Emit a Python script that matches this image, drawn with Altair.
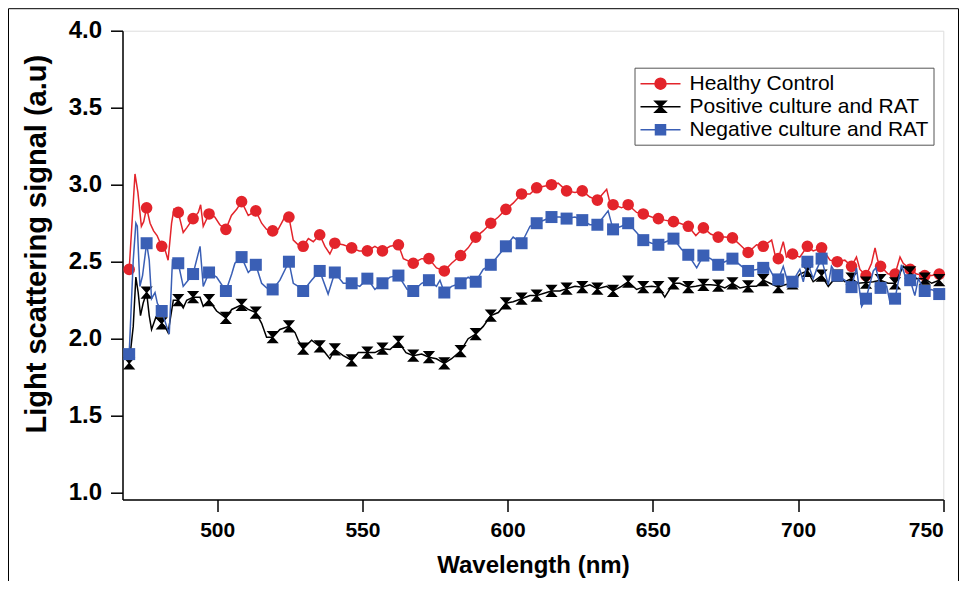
import altair as alt
import pandas as pd

# ---------------- data ----------------
series_names = ["Healthy Control", "Positive culture and RAT", "Negative culture and RAT"]
series_colors = ["#e3242b", "#000000", "#3a5fb5"]

x_ticks = [500, 550, 600, 650, 700, 750]
y_ticks = [1.0, 1.5, 2.0, 2.5, 3.0, 3.5, 4.0]

marker_wl = [469.7, 475.7, 480.9, 486.6, 491.7, 497.2, 503.0, 508.4, 513.3, 519.1,
             524.7, 529.6, 535.3, 540.5, 546.3, 551.7, 556.9, 562.4, 567.5, 572.9,
             578.2, 583.8, 589.0, 594.2, 599.4, 604.8, 610.0, 615.1, 620.3, 625.7,
             630.9, 636.3, 641.5, 646.7, 651.9, 657.1, 662.2, 667.4, 672.5, 677.4,
             682.8, 688.0, 693.2, 698.1, 703.2, 708.1, 713.5, 718.4, 723.4, 728.4,
             733.4, 738.6, 743.6, 748.6]

red_marker = [2.45, 2.85, 2.60, 2.82, 2.78, 2.81, 2.71, 2.89, 2.83, 2.70,
              2.79, 2.60, 2.675, 2.62, 2.59, 2.57, 2.57, 2.61, 2.49, 2.52,
              2.44, 2.54, 2.66, 2.75, 2.84, 2.94, 2.98, 3.00, 2.96, 2.96,
              2.90, 2.87, 2.87, 2.81, 2.78, 2.76, 2.73, 2.72, 2.66, 2.655,
              2.56, 2.60, 2.52, 2.55, 2.60, 2.59, 2.50, 2.47, 2.41, 2.47,
              2.42, 2.45, 2.41, 2.42]

black_marker = [1.84, 2.30, 2.10, 2.25, 2.27, 2.25, 2.135, 2.22, 2.17, 2.01,
                2.08, 1.935, 1.95, 1.93, 1.86, 1.91, 1.935, 1.98, 1.89, 1.88,
                1.84, 1.92, 2.03, 2.15, 2.23, 2.26, 2.28, 2.31, 2.325, 2.335,
                2.325, 2.31, 2.37, 2.335, 2.335, 2.36, 2.335, 2.35, 2.345, 2.36,
                2.34, 2.38, 2.335, 2.36, 2.44, 2.41, 2.41, 2.39, 2.365, 2.38,
                2.36, 2.43, 2.39, 2.38]

blue_marker = [1.90, 2.62, 2.18, 2.49, 2.42, 2.43, 2.31, 2.53, 2.48, 2.32,
               2.50, 2.31, 2.44, 2.43, 2.36, 2.39, 2.36, 2.41, 2.31, 2.38,
               2.30, 2.36, 2.37, 2.48, 2.60, 2.62, 2.75, 2.79, 2.78, 2.77,
               2.74, 2.71, 2.75, 2.64, 2.61, 2.65, 2.545, 2.54, 2.48, 2.52,
               2.44, 2.46, 2.385, 2.37, 2.50, 2.52, 2.41, 2.335, 2.26, 2.33,
               2.26, 2.38, 2.31, 2.29]

red_extra_wl = [471.7, 472.7, 473.9, 474.7, 476.9, 478.1, 479.3, 482.0, 483.1, 484.3,
                485.1, 488.3, 489.5, 493.5, 494.3, 495.2, 499.2, 500.9, 504.9, 506.7,
                510.7, 515.3, 517.0, 521.0, 522.7, 523.6, 526.2, 527.9, 531.4, 533.1,
                537.1, 538.8, 543.4, 548.9, 554.3, 559.5, 564.1, 570.4, 575.5, 580.7,
                586.4, 591.6, 596.8, 601.9, 607.7, 617.4, 623.2, 628.3, 634.1, 635.0,
                639.2, 644.4, 649.6, 654.1, 659.3, 664.8, 669.9, 674.8, 680.0, 685.7,
                690.9, 692.0, 694.9, 696.0, 700.6, 705.2, 711.0, 716.1, 720.1, 721.3,
                725.3, 726.5, 727.4, 731.0, 735.1, 736.2, 740.8, 746.0]
red_extra_val = [3.07, 2.95, 2.73, 2.76, 2.75, 2.70, 2.67, 2.58, 2.51, 2.75,
                 2.84, 2.69, 2.72, 2.82, 2.87, 2.73, 2.79, 2.74, 2.80, 2.84,
                 2.80, 2.75, 2.71, 2.71, 2.77, 2.81, 2.64, 2.61, 2.65, 2.63,
                 2.60, 2.55, 2.61, 2.57, 2.60, 2.60, 2.52, 2.52, 2.46, 2.49,
                 2.59, 2.70, 2.79, 2.88, 2.94, 3.01, 2.95, 2.92, 2.97, 2.90,
                 2.85, 2.82, 2.79, 2.77, 2.75, 2.67, 2.68, 2.66, 2.61, 2.61,
                 2.64, 2.55, 2.63, 2.53, 2.53, 2.57, 2.51, 2.51, 2.53, 2.45,
                 2.49, 2.59, 2.51, 2.42, 2.53, 2.49, 2.42, 2.41]

black_extra_wl = [471.1, 472.0, 472.8, 473.6, 474.5, 476.6, 477.4, 478.9, 482.0, 483.1,
                  484.9, 488.3, 489.5, 494.1, 495.2, 499.8, 505.0, 510.7, 515.3, 517.0,
                  521.6, 526.8, 527.9, 532.5, 537.1, 538.8, 543.4, 548.6, 554.3, 559.5,
                  565.0, 570.4, 575.5, 580.7, 586.4, 591.6, 596.8, 601.9, 607.7, 613.4,
                  618.0, 623.2, 628.3, 634.1, 639.2, 644.4, 649.6, 654.1, 659.3, 664.8,
                  669.9, 674.8, 680.0, 685.7, 690.3, 695.5, 700.6, 705.2, 710.4, 716.1,
                  720.7, 725.9, 731.0, 736.2, 740.8, 746.0]
black_extra_val = [2.08, 2.40, 2.30, 2.15, 2.23, 2.15, 2.06, 2.14, 2.08, 2.04,
                   2.25, 2.20, 2.25, 2.27, 2.21, 2.18, 2.19, 2.19, 2.10, 2.01,
                   2.06, 2.04, 1.99, 1.99, 1.91, 1.87, 1.89, 1.91, 1.91, 1.93,
                   1.91, 1.90, 1.87, 1.87, 2.00, 2.08, 2.17, 2.24, 2.28, 2.30,
                   2.31, 2.34, 2.35, 2.34, 2.34, 2.32, 2.34, 2.27, 2.36, 2.34,
                   2.35, 2.33, 2.33, 2.34, 2.36, 2.35, 2.42, 2.37, 2.34, 2.37,
                   2.36, 2.37, 2.36, 2.47, 2.39, 2.36]

blue_extra_wl = [471.1, 472.0, 472.5, 473.4, 474.3, 476.6, 477.4, 478.6, 479.4, 482.6,
                 483.5, 484.6, 488.3, 490.0, 494.1, 495.2, 499.8, 505.0, 506.1, 510.7,
                 515.3, 517.0, 521.6, 526.2, 527.9, 532.5, 538.2, 543.4, 549.1, 554.3,
                 559.5, 565.4, 570.4, 575.5, 576.7, 580.7, 586.4, 591.6, 596.8, 601.9,
                 607.7, 618.0, 623.2, 628.3, 634.6, 639.2, 644.4, 649.6, 654.5, 659.9,
                 665.1, 669.9, 674.8, 680.6, 685.7, 689.7, 691.4, 694.9, 696.6, 700.6,
                 701.8, 705.2, 706.4, 710.4, 711.5, 716.1, 720.1, 721.9, 725.9, 726.8,
                 730.5, 731.6, 735.6, 736.8, 740.2, 741.4, 746.0]
blue_extra_val = [2.51, 2.75, 2.73, 2.34, 2.41, 2.51, 2.26, 2.30, 2.23, 2.08,
                  2.03, 2.51, 2.34, 2.38, 2.60, 2.34, 2.40, 2.42, 2.49, 2.43,
                  2.36, 2.33, 2.38, 2.36, 2.34, 2.38, 2.29, 2.36, 2.34, 2.32,
                  2.40, 2.32, 2.36, 2.34, 2.38, 2.34, 2.40, 2.45, 2.54, 2.66,
                  2.73, 2.79, 2.79, 2.74, 2.83, 2.73, 2.69, 2.62, 2.63, 2.58,
                  2.46, 2.52, 2.50, 2.47, 2.45, 2.47, 2.41, 2.47, 2.36, 2.45,
                  2.37, 2.39, 2.45, 2.35, 2.47, 2.38, 2.46, 2.21, 2.44, 2.46,
                  2.34, 2.24, 2.48, 2.41, 2.28, 2.39, 2.32]

# ---------------- build tables ----------------
def build(name, mvals, ewl, evals):
    rows = [{"wl": w, "val": v, "series": name, "marker": True} for w, v in zip(marker_wl, mvals)]
    rows += [{"wl": w, "val": v, "series": name, "marker": False} for w, v in zip(ewl, evals)]
    return pd.DataFrame(sorted(rows, key=lambda r: r["wl"]))

df_red = build(series_names[0], red_marker, red_extra_wl, red_extra_val)
df_black = build(series_names[1], black_marker, black_extra_wl, black_extra_val)
df_blue = build(series_names[2], blue_marker, blue_extra_wl, blue_extra_val)
df_all = pd.concat([df_red, df_black, df_blue], ignore_index=True)

FONT = "Liberation Sans"

xscale = alt.Scale(domain=[467.4, 750], nice=False, zero=False)
yscale = alt.Scale(domain=[0.956, 4.0], nice=False, zero=False)

xaxis = alt.Axis(values=x_ticks, title="Wavelength (nm)", grid=False,
                 domainColor="black", domainWidth=1.5, tickColor="black", tickWidth=1.5,
                 tickSize=12, labelFont=FONT, labelFontSize=21, labelFontWeight="bold",
                 labelColor="black", labelPadding=8, titleFont=FONT, titleFontSize=24,
                 titleFontWeight="bold", titleColor="black", titleY=66, titleBaseline="middle")
yaxis = alt.Axis(values=y_ticks, format=".1f", title="Light scattering signal (a.u)", grid=False,
                 domainColor="black", domainWidth=1.5, tickColor="black", tickWidth=1.5,
                 tickSize=12, labelFont=FONT, labelFontSize=24, labelFontWeight="bold",
                 labelColor="black", labelPadding=9, titleFont=FONT, titleFontSize=29,
                 titleFontWeight="bold", titleColor="black", titleX=-86, titleY=213,
                 titleBaseline="middle", titleAlign="center", titleAngle=270)

X = alt.X("wl:Q", scale=xscale, axis=xaxis)
Y = alt.Y("val:Q", scale=yscale, axis=yaxis)

hourglass = "M-1,-1L1,-1L0.12,0L1,1L-1,1L-0.12,0Z"
marker_shapes = ["circle", hourglass, "square"]
marker_sizes = [135, 150, 144]

layers = []
for df_s, col, shp, sz in zip([df_red, df_black, df_blue], series_colors, marker_shapes, marker_sizes):
    base = alt.Chart(df_s)
    layers.append(base.mark_line(color=col, strokeWidth=1.5).encode(x=X, y=Y, order="wl:Q"))
    layers.append(base.transform_filter("datum.marker").mark_point(
        shape=shp, filled=True, size=sz, color=col, opacity=1).encode(x=X, y=Y))

# legend symbols: short line with the series marker
legend_paths = [
    "M-2,0L2,0M-0.55,0A0.55,0.55,0,1,1,0.55,0A0.55,0.55,0,1,1,-0.55,0Z",
    "M-2,0L2,0M-0.55,-0.55L0.55,-0.55L0,0ZM-0.55,0.55L0.55,0.55L0,0Z",
    "M-2,0L2,0M-0.5,-0.5L0.5,-0.5L0.5,0.5L-0.5,0.5Z",
]
leg = alt.Legend(title=None, orient="none", legendX=512, legendY=37,
                 labelFont=FONT, labelFontSize=21, labelColor="black", labelLimit=400,
                 symbolSize=400, symbolStrokeWidth=1.5, symbolOffset=10,
                 labelOffset=18, padding=5, rowPadding=2,
                 strokeColor="#555555", fillColor="white")
legend_layer = alt.Chart(df_all).transform_filter("false").mark_point(
    filled=True, opacity=1, strokeWidth=1.5).encode(
    x=X, y=Y,
    fill=alt.Fill("series:N", scale=alt.Scale(domain=series_names, range=series_colors), legend=leg),
    stroke=alt.Stroke("series:N", scale=alt.Scale(domain=series_names, range=series_colors), legend=leg),
    shape=alt.Shape("series:N", scale=alt.Scale(domain=series_names, range=legend_paths), legend=leg),
)
layers.append(legend_layer)

frame = alt.Chart(pd.DataFrame({"a": [0]})).mark_rect(
    fill=None, stroke="black", strokeWidth=1).encode(
    x=alt.value(-114), x2=alt.value(836), y=alt.value(-22), y2=alt.value(620))
layers.append(frame)

chart = alt.layer(*layers).properties(
    width=820.8, height=468.8,
    autosize=alt.AutoSizeParams(type="none"),
    padding={"left": 114.5, "top": 22.7, "right": 16.7, "bottom": 81},
).configure_view(stroke=None).configure(background="white")

chart.save("out.html", embed_options={"renderer": "svg", "actions": False})
